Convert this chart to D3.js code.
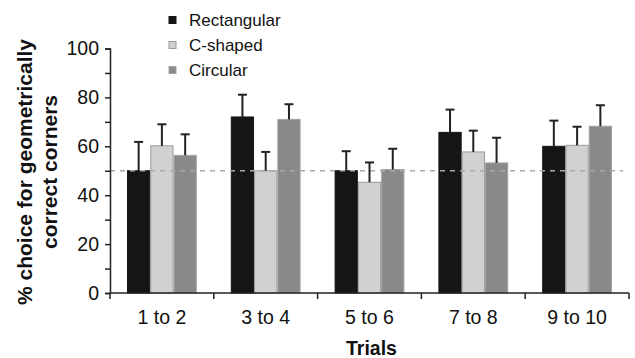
<!DOCTYPE html>
<html><head><meta charset="utf-8">
<script src="https://cdn.jsdelivr.net/npm/d3@7"></script>
<style>body{margin:0;background:#fff}svg{display:block}text{font-family:"Liberation Sans",Arial,sans-serif}</style>
</head><body><svg id="c" width="635" height="358"></svg>
<script>
const categories = ["1 to 2","3 to 4","5 to 6","7 to 8","9 to 10"];
const series = ["Rectangular","C-shaped","Circular"];
const rectangular = [50, 72, 50, 65.7, 60];
const cShaped     = [60.2, 50, 45.3, 57.7, 60.4];
const circular    = [56.3, 71, 50.5, 53.2, 68.2];
const errRect     = [11.8, 9.1, 8, 9.3, 10.5];
const errC        = [8.8, 7.7, 8.1, 8.7, 7.6];
const errCirc     = [8.6, 6.2, 8.5, 10.3, 8.6];
const yTicks = [0,20,40,60,80,100];
const chance = 50;
const colors = ["#151515","#d0d1d3","#88898b"];
const strokes = ["#151515","#9a9a9a","#a3a3a3"];

const values = [rectangular, cShaped, circular];
const errs = [errRect, errC, errCirc];

const svg = d3.select("#c");
const L = 110, R = 629, T = 48.5, B = 293;
const x = d3.scaleBand().domain(categories).range([L,R]).paddingInner(0).paddingOuter(0);
const inner = d3.scaleBand().domain(series).range([17, x.bandwidth()-17]).padding(0);
const y = d3.scaleLinear().domain([0,100]).range([B,T]);

// bars
series.forEach((s,si)=>{
  svg.append("g").selectAll("rect").data(categories).join("rect")
    .attr("x",(c)=>x(c)+inner(s)+0.5)
    .attr("y",(c,i)=>y(values[si][i]))
    .attr("width",inner.bandwidth()-1)
    .attr("height",(c,i)=>B-y(values[si][i]))
    .attr("fill",colors[si]).attr("stroke",strokes[si]).attr("stroke-width",1);
});

// chance line
svg.append("line").attr("x1",L).attr("x2",623).attr("y1",y(chance)).attr("y2",y(chance))
  .attr("stroke","#aaaaaa").attr("stroke-width",1.5).attr("stroke-dasharray","5,5");

// error bars
series.forEach((s,si)=>{
  const g = svg.append("g").attr("stroke","#222").attr("stroke-width",2);
  categories.forEach((c,i)=>{
    const cx = x(c)+inner(s)+inner.bandwidth()/2;
    const top = y(values[si][i]+errs[si][i]);
    g.append("line").attr("x1",cx).attr("x2",cx).attr("y1",y(values[si][i])).attr("y2",top);
    g.append("line").attr("x1",cx-4.5).attr("x2",cx+4.5).attr("y1",top).attr("y2",top);
  });
});

// y axis
const ya = svg.append("g").attr("transform",`translate(${L},0)`)
  .call(d3.axisLeft(y).tickValues(d3.range(0,101,10)).tickSize(5).tickPadding(6)
    .tickFormat(d=>yTicks.includes(d)?d:""));
ya.select(".domain").attr("stroke","#222").attr("stroke-width",1.5);
ya.selectAll(".tick line").attr("stroke","#222").attr("stroke-width",1.5);
ya.selectAll(".tick text").attr("font-size",19.5).attr("fill","#111").attr("font-family","Liberation Sans, Arial, sans-serif");

// x axis
const xa = svg.append("g").attr("transform",`translate(0,${B})`);
xa.append("line").attr("x1",L).attr("x2",R).attr("y1",0).attr("y2",0).attr("stroke","#222").attr("stroke-width",1.5);
const bounds = categories.map(c=>x(c)).concat([R]);
xa.selectAll("line.t").data(bounds).join("line").attr("class","t")
  .attr("x1",d=>d).attr("x2",d=>d).attr("y1",0).attr("y2",6).attr("stroke","#222").attr("stroke-width",1.5);
xa.selectAll("text").data(categories).join("text")
  .attr("x",c=>x(c)+x.bandwidth()/2).attr("y",31).attr("text-anchor","middle")
  .attr("font-size",19.5).attr("fill","#111").text(c=>c);

// axis titles
svg.append("text").attr("x",(L+R)/2+2).attr("y",355).attr("text-anchor","middle")
  .attr("font-size",19.5).attr("font-weight","bold").attr("fill","#111").text("Trials");
const yt = svg.append("text").attr("transform","translate(0,172) rotate(-90)")
  .attr("text-anchor","middle").attr("font-size",21).attr("font-weight","bold").attr("fill","#111");
yt.append("tspan").attr("x",0).attr("y",32).text("% choice for geometrically");
yt.append("tspan").attr("x",0).attr("y",57).text("correct corners");

// legend
const lg = svg.append("g");
series.forEach((s,si)=>{
  const cy = 20 + si*25;
  lg.append("rect").attr("x",169).attr("y",cy-3.5).attr("width",7).attr("height",7)
    .attr("fill",colors[si]).attr("stroke",strokes[si]).attr("stroke-width",1);
  lg.append("text").attr("x",189).attr("y",cy+6).attr("font-size",17).attr("fill","#111").text(s);
});
</script></body></html>
